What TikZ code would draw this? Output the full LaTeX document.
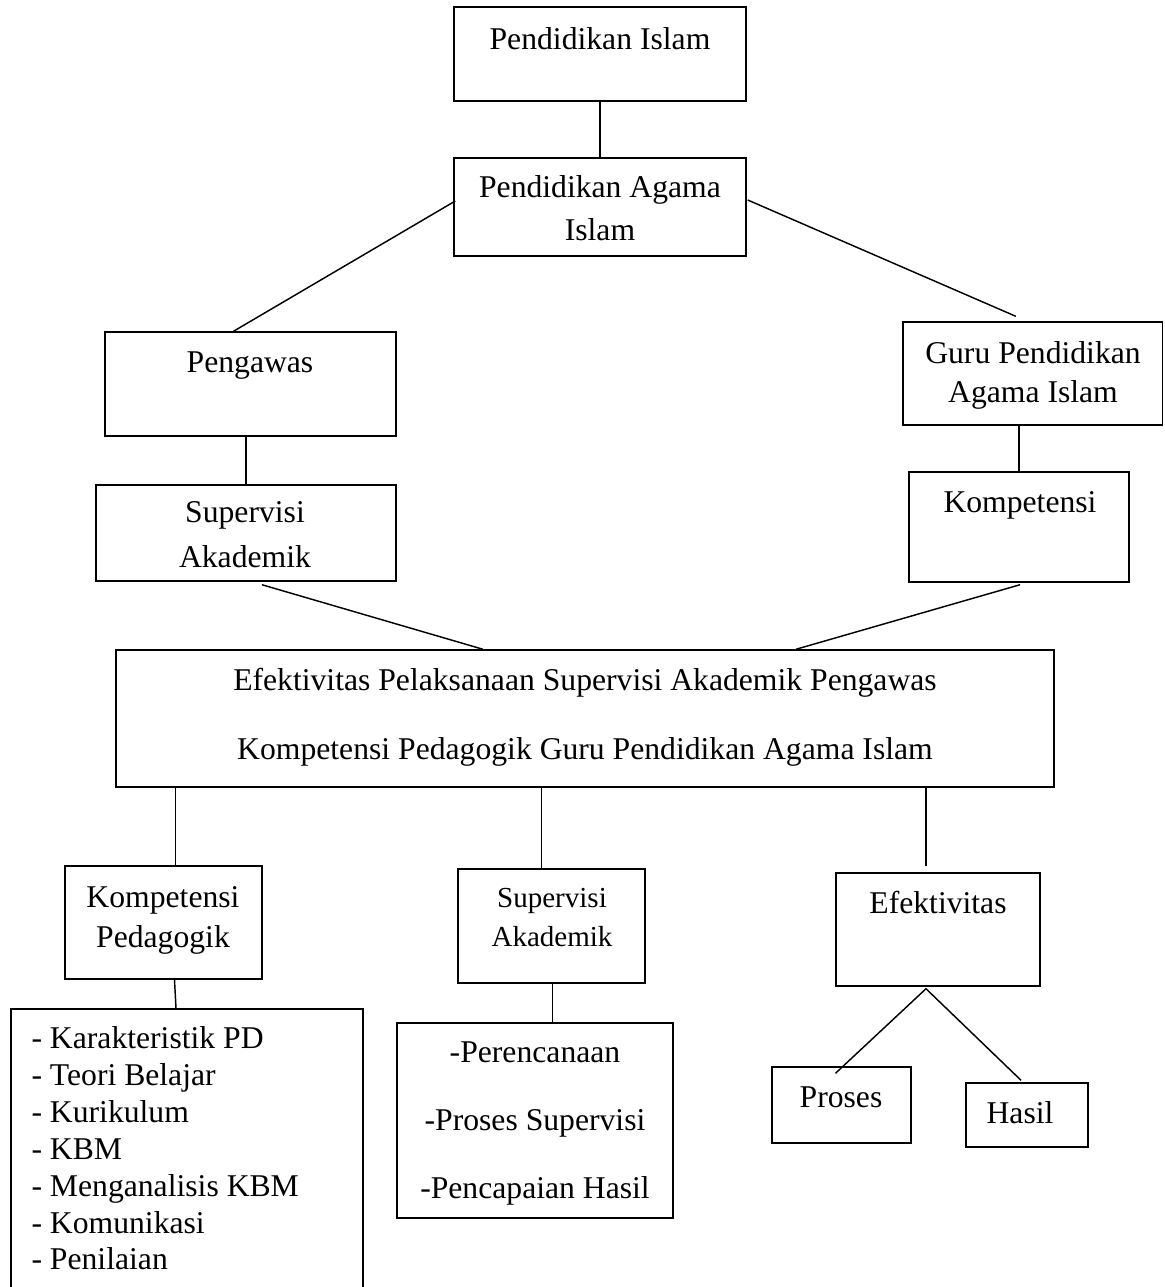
\documentclass[tikz,border=0pt]{standalone}
\usepackage{fontspec}
\setmainfont{Liberation Serif}
\usetikzlibrary{fit,calc}
\begin{document}
\begin{tikzpicture}[x=0.379pt,y=-0.379pt,
  boxn/.style={draw, line width=0.55pt, inner sep=0pt},
  txt/.style={inner sep=0pt, anchor=base, font=\fontsize{12}{14}\selectfont},
  txtl/.style={txt, anchor=base west},
  txts/.style={txt, font=\fontsize{11}{13}\selectfont},
  conn/.style={line width=0.55pt}]
\fill[white] (0,0) rectangle (1164,1287);
\clip (0,0) rectangle (1164,1287);
% boxes
\node[boxn, fit={(454,7) (746,101)}] (pi) {};
\node[boxn, fit={(454,158) (746,256)}] (pai) {};
\node[boxn, fit={(105,332) (396,436)}] (peng) {};
\node[boxn, fit={(903,322) (1162.5,425)}] (guru) {};
\node[boxn, fit={(96,485) (396,581)}] (supL) {};
\node[boxn, fit={(909,472) (1129,582)}] (komp) {};
\node[boxn, fit={(116,650) (1054,787)}] (big) {};
\node[boxn, fit={(65,866) (262,979)}] (kp) {};
\node[boxn, fit={(458,869) (645,983)}] (supC) {};
\node[boxn, fit={(836,873) (1040,986)}] (ef) {};
\node[boxn, fit={(11,1009) (363,1300)}] (lst) {};
\node[boxn, fit={(397,1023) (673,1218)}] (sl) {};
\node[boxn, fit={(772,1067) (911,1143)}] (pr) {};
\node[boxn, fit={(966,1083) (1088,1147)}] (ha) {};
% texts
\node[txt] (piT) at (600,49) {Pendidikan Islam};
\node[txt] (paiT1) at (600,197) {Pendidikan Agama};
\node[txt] (paiT2) at (600,240) {Islam};
\node[txt] (pengT) at (250,372) {Pengawas};
\node[txt] (guruT1) at (1033,363) {Guru Pendidikan};
\node[txt] (guruT2) at (1033,402) {Agama Islam};
\node[txt] (supLT1) at (245,522) {Supervisi};
\node[txt] (supLT2) at (245,567) {Akademik};
\node[txt] (kompT) at (1020,512) {Kompetensi};
\node[txt] (bigT1) at (585,690) {Efektivitas Pelaksanaan Supervisi Akademik Pengawas};
\node[txt] (bigT2) at (585,759) {Kompetensi Pedagogik Guru Pendidikan Agama Islam};
\node[txt] (kpT1) at (163,907) {Kompetensi};
\node[txt] (kpT2) at (163,947) {Pedagogik};
\node[txts] (supCT1) at (552,907) {Supervisi};
\node[txts] (supCT2) at (552,946) {Akademik};
\node[txt] (efT) at (938,913) {Efektivitas};
\node[txtl] (l1) at (31,1048) {- Karakteristik PD};
\node[txtl] (l2) at (31,1085) {- Teori Belajar};
\node[txtl] (l3) at (31,1122) {- Kurikulum};
\node[txtl] (l4) at (31,1159) {- KBM};
\node[txtl] (l5) at (31,1196) {- Menganalisis KBM};
\node[txtl] (l6) at (31,1233) {- Komunikasi};
\node[txtl] (l7) at (31,1269) {- Penilaian};
\node[txt] (slT1) at (535,1062) {-Perencanaan};
\node[txt] (slT2) at (535,1130) {-Proses Supervisi};
\node[txt] (slT3) at (535,1198) {-Pencapaian Hasil};
\node[txt] (prT) at (841,1107) {Proses};
\node[txt] (haT) at (1020,1123) {Hasil};
% connectors
\draw[conn] (pi.south) -- (pai.north);
\draw[conn] ($(pai.west)+(2,-6)$) -- ($(peng.north)+(-17,0)$);
\draw[conn] ($(pai.east)+(1,-7)$) -- ($(guru.north)+(-17,-5)$);
\draw[conn] (supL.north) -- (supL.north |- peng.south);
\draw[conn] (komp.north) -- (komp.north |- guru.south);
\draw[conn] ($(supL.south)+(16,3)$) -- ($(big.north)+(-102,0)$);
\draw[conn] ($(komp.south)+(1,2)$) -- ($(big.north)+(211,0)$);
\path ($(kp.north)+(12,0)$) coordinate (kpTop);
\draw[conn] (kpTop) -- (kpTop |- big.south);
\path ($(supC.north)+(-10,0)$) coordinate (scTop);
\draw[conn] (scTop) -- (scTop |- big.south);
\path ($(ef.north)+(-12,-6)$) coordinate (efTop);
\draw[conn] (efTop) -- (efTop |- big.south);
\draw[conn] ($(kp.south)+(11,0)$) -- ($(lst.north)+(-11,0)$);
\path ($(supC.south)+(1,0)$) coordinate (scBot);
\draw[conn] (scBot) -- (scBot |- sl.north);
\path ($(ef.south)+(-12,2)$) coordinate (apex);
\draw[conn] (apex) -- ($(pr.north)+(-6,7)$);
\draw[conn] (apex) -- ($(ha.north)+(-6,-2)$);
\end{tikzpicture}
\end{document}
